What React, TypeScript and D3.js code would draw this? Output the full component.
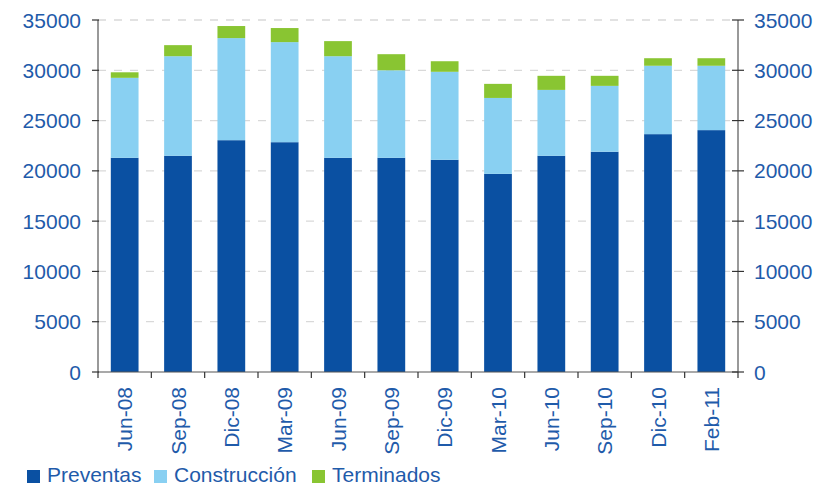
import React from "react";
import * as d3 from "d3";

const categories = ["Jun-08","Sep-08","Dic-08","Mar-09","Jun-09","Sep-09","Dic-09","Mar-10","Jun-10","Sep-10","Dic-10","Feb-11"];
const preventas = [21300,21500,23050,22850,21300,21300,21100,19700,21500,21900,23650,24050];
const construccion = [7950,9900,10150,9950,10100,8700,8750,7550,6550,6550,6800,6400];
const terminados = [550,1100,1200,1400,1500,1600,1050,1400,1400,1000,750,750];
const yTicks = [0,5000,10000,15000,20000,25000,30000,35000];
const seriesNames = ["Preventas","Construcción","Terminados"];
const colors = ["#0A50A2","#89D0F2","#89C532"];

const W = 828, H = 486;
const left = 98, right = 738, top = 20, bottom = 372;
const textColor = "#1F5BAA";
const font = "'Liberation Sans', Arial, sans-serif";

export default function App() {
  const x = d3.scaleBand<string>().domain(categories).range([left, right]).paddingInner(0.48).paddingOuter(0.24);
  const y = d3.scaleLinear().domain([0, 35000]).range([bottom, top]);
  const rows = categories.map((c, i) => ({ cat: c, Preventas: preventas[i], "Construcción": construccion[i], Terminados: terminados[i] }));
  const stack = d3.stack<any>().keys(seriesNames)(rows);
  const step = (right - left) / categories.length;
  const legendX = [27, 154, 312];

  return (
    <svg width={W} height={H} style={{ position: "absolute", left: 0, top: 0, background: "#fff" }} fontFamily={font}>
      {yTicks.filter(t => t > 0).map(t => (
        <line key={t} x1={left} x2={right} y1={y(t)} y2={y(t)} stroke="#d9d9d9" strokeWidth={1.3} strokeDasharray="8,8" />
      ))}
      {stack.map((s, si) => (
        <g key={si} fill={colors[si]}>
          {s.map((d, i) => (
            <rect key={i} x={x(categories[i])} width={x.bandwidth()} y={y(d[1])} height={y(d[0]) - y(d[1])} />
          ))}
        </g>
      ))}
      <line x1={left} x2={left} y1={top} y2={bottom} stroke="#555" strokeWidth={1.2} />
      <line x1={right} x2={right} y1={top} y2={bottom} stroke="#555" strokeWidth={1.2} />
      <line x1={left} x2={right} y1={bottom} y2={bottom} stroke="#555" strokeWidth={1.2} />
      {yTicks.map(t => (
        <g key={t}>
          <line x1={left - 6} x2={left + 1} y1={y(t)} y2={y(t)} stroke="#333" strokeWidth={1.2} />
          <line x1={right - 6} x2={right + 6} y1={y(t)} y2={y(t)} stroke="#333" strokeWidth={1.2} />
          <text x={81} y={y(t)} dy="0.36em" textAnchor="end" fontSize={21} fill={textColor}>{t}</text>
          <text x={754} y={y(t)} dy="0.36em" textAnchor="start" fontSize={21} fill={textColor}>{t}</text>
        </g>
      ))}
      {d3.range(categories.length + 1).map(i => (
        <line key={i} x1={left + i * step} x2={left + i * step} y1={bottom} y2={bottom + 6} stroke="#333" strokeWidth={1.2} />
      ))}
      {categories.map(c => {
        const cx = (x(c) as number) + x.bandwidth() / 2;
        return (
          <text key={c} transform={`translate(${cx},${387}) rotate(-90)`} textAnchor="end" dy="0.36em" fontSize={21} fill={textColor}>{c}</text>
        );
      })}
      {seriesNames.map((n, i) => (
        <g key={n}>
          <rect x={legendX[i]} y={470} width={13} height={13} fill={colors[i]} />
          <text x={legendX[i] + 20} y={482} fontSize={21} fill={textColor}>{n}</text>
        </g>
      ))}
    </svg>
  );
}
